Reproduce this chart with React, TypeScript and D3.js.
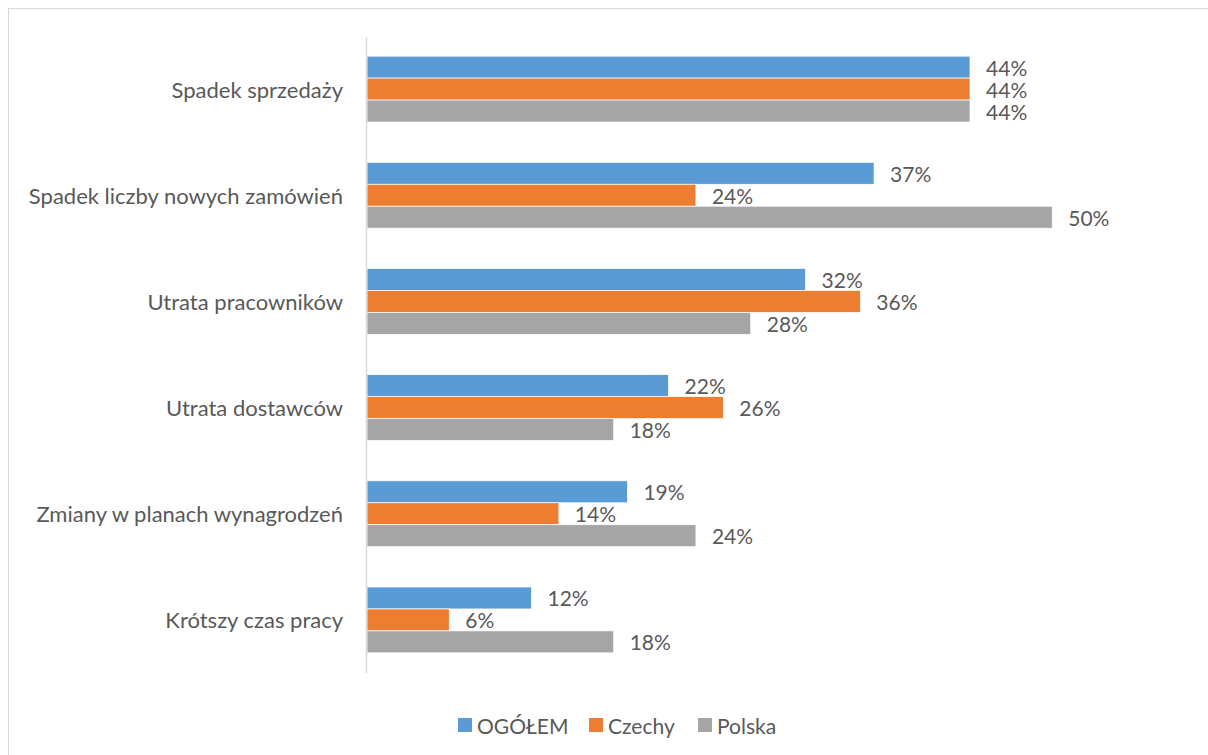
import React from "react";
import * as d3 from "d3";

const categories = [
  "Spadek sprzedaży",
  "Spadek liczby nowych zamówień",
  "Utrata pracowników",
  "Utrata dostawców",
  "Zmiany w planach wynagrodzeń",
  "Krótszy czas pracy",
];
const seriesNames = ["OGÓŁEM", "Czechy", "Polska"];
const ogolem = [44, 37, 32, 22, 19, 12];
const czechy = [44, 24, 36, 26, 14, 6];
const polska = [44, 50, 28, 18, 24, 18];
const colors = ["#5B9BD5", "#ED7D31", "#A5A5A5"];

const W = 1208;
const H = 755;
const FONT = "Lato, 'Open Sans', sans-serif";
const TEXT = "#595959";

export default function App() {
  const seriesValues = [ogolem, czechy, polska];
  const x = d3.scaleLinear().domain([0, 44]).range([367, 970]);
  const y = d3
    .scaleBand<string>()
    .domain(categories)
    .range([36, 673])
    .paddingInner(0.38)
    .paddingOuter(0.19);
  const inner = d3
    .scaleBand<string>()
    .domain(seriesNames)
    .range([0, y.bandwidth()]);

  const legendX = [458, 589, 698];

  return (
    <svg
      width={W}
      height={H}
      style={{ position: "absolute", left: 0, top: 0, background: "#fff" }}
      fontFamily={FONT}
    >
      <rect x={8.5} y={8.5} width={W + 10} height={H + 10} fill="#fff" stroke="#d9d9d9" />
      {categories.map((c, i) => (
        <g key={c}>
          <text
            x={343}
            y={(y(c) as number) + y.bandwidth() / 2}
            textAnchor="end"
            dominantBaseline="central"
            fontSize={22}
            fill={TEXT}
          >
            {c}
          </text>
          {seriesNames.map((s, j) => {
            const v = seriesValues[j][i];
            const by = (y(c) as number) + (inner(s) as number);
            return (
              <g key={s}>
                <rect
                  x={x(0)}
                  y={by}
                  width={x(v) - x(0)}
                  height={inner.bandwidth()}
                  fill={colors[j]}
                  stroke="#fff"
                  strokeWidth={0.7}
                />
                <text
                  x={x(v) + 16}
                  y={by + inner.bandwidth() / 2}
                  dominantBaseline="central"
                  fontSize={21}
                  fill={TEXT}
                >
                  {v}%
                </text>
              </g>
            );
          })}
        </g>
      ))}
      <line x1={366.5} x2={366.5} y1={37} y2={673} stroke="#d9d9d9" strokeWidth={1.5} />
      {seriesNames.map((s, j) => (
        <g key={s}>
          <rect x={legendX[j]} y={718} width={14} height={14} fill={colors[j]} />
          <text x={legendX[j] + 19} y={725} dominantBaseline="central" fontSize={21} fill={TEXT}>
            {s}
          </text>
        </g>
      ))}
    </svg>
  );
}
